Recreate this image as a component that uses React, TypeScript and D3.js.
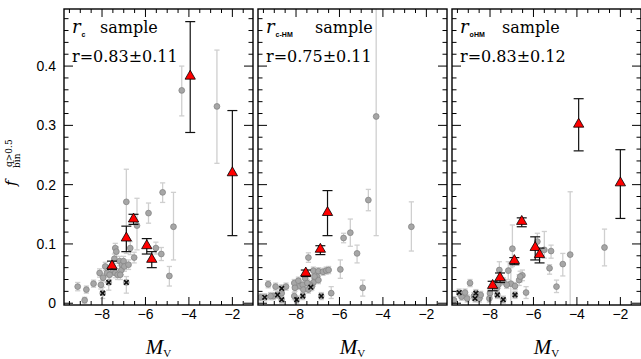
import * as React from 'react'
import * as d3 from 'd3'

// [Mv, f, barLow, barHigh]
type Pt = [number, number, number, number]

const panelNames = ['c', 'c-HM', 'oHM']
const panelCorr = ['r=0.83±0.11', 'r=0.75±0.11', 'r=0.83±0.12']

const xMajor = [-8, -6, -4, -2]
const yMajor = [0, 0.1, 0.2, 0.3, 0.4]
const yLabels = ['0', '0.1', '0.2', '0.3', '0.4']

// r_c sample
const redRc: Pt[] = [
  [-7.54, 0.063, 0.057, 0.071],
  [-6.88, 0.110, 0.087, 0.130],
  [-6.55, 0.142, 0.133, 0.150],
  [-5.94, 0.097, 0.083, 0.109],
  [-5.71, 0.074, 0.060, 0.087],
  [-3.94, 0.383, 0.288, 0.475],
  [-2.00, 0.220, 0.114, 0.325],
]
const grayRc: Pt[] = [
  [-9.12, 0.028, 0.021, 0.035],
  [-8.72, 0.023, 0.017, 0.029],
  [-8.80, 0.005, 0.000, 0.010],
  [-8.39, 0.033, 0.027, 0.039],
  [-8.05, 0.031, 0.024, 0.038],
  [-8.11, 0.051, 0.044, 0.058],
  [-7.95, 0.043, 0.036, 0.050],
  [-7.85, 0.062, 0.055, 0.069],
  [-7.77, 0.051, 0.044, 0.058],
  [-7.65, 0.048, 0.040, 0.056],
  [-7.49, 0.056, 0.048, 0.064],
  [-7.43, 0.075, 0.067, 0.083],
  [-7.39, 0.093, 0.085, 0.101],
  [-7.34, 0.087, 0.079, 0.095],
  [-7.39, 0.051, 0.043, 0.059],
  [-7.28, 0.048, 0.040, 0.056],
  [-7.19, 0.071, 0.063, 0.079],
  [-7.11, 0.056, 0.048, 0.064],
  [-7.08, 0.065, 0.057, 0.073],
  [-7.01, 0.071, 0.063, 0.079],
  [-6.97, 0.062, 0.054, 0.070],
  [-7.16, 0.048, 0.040, 0.056],
  [-6.78, 0.065, 0.057, 0.073],
  [-6.70, 0.093, 0.082, 0.104],
  [-6.52, 0.077, 0.068, 0.086],
  [-6.88, 0.171, 0.084, 0.226],
  [-6.39, 0.131, 0.090, 0.177],
  [-5.86, 0.152, 0.135, 0.169],
  [-5.52, 0.093, 0.083, 0.103],
  [-5.27, 0.083, 0.072, 0.094],
  [-5.21, 0.187, 0.170, 0.203],
  [-4.71, 0.129, 0.073, 0.187],
  [-4.90, 0.046, 0.029, 0.062],
  [-4.33, 0.359, 0.316, 0.400],
  [-2.71, 0.332, 0.236, 0.427],
]
const crossRc: Pt[] = [
  [-7.69, 0.035, 0.022, 0.045],
  [-6.88, 0.035, 0.017, 0.045],
  [-7.97, 0.017, 0.008, 0.027],
]

// r_c-HM sample
const redRcHM: Pt[] = [
  [-7.55, 0.051, 0.045, 0.056],
  [-6.88, 0.091, 0.082, 0.097],
  [-6.55, 0.153, 0.114, 0.190],
]
const grayRcHM: Pt[] = [
  [-4.67, 0.174, 0.156, 0.192],
  [-4.31, 0.315, 0.114, 0.600],
  [-2.69, 0.129, 0.088, 0.171],
  [-5.50, 0.119, 0.096, 0.142],
  [-5.81, 0.110, 0.102, 0.118],
  [-5.19, 0.084, 0.068, 0.098],
  [-5.96, 0.057, 0.042, 0.073],
  [-4.93, 0.026, 0.012, 0.039],
  [-6.38, 0.017, 0.008, 0.028],
  [-7.43, 0.077, 0.069, 0.085],
  [-7.20, 0.055, 0.049, 0.061],
  [-6.97, 0.054, 0.048, 0.060],
  [-6.76, 0.053, 0.047, 0.059],
  [-6.61, 0.055, 0.049, 0.061],
  [-6.50, 0.056, 0.050, 0.062],
  [-7.12, 0.042, 0.036, 0.048],
  [-7.20, 0.035, 0.029, 0.041],
  [-7.04, 0.045, 0.039, 0.051],
  [-6.97, 0.039, 0.033, 0.045],
  [-7.15, 0.045, 0.039, 0.051],
  [-7.58, 0.042, 0.036, 0.048],
  [-7.35, 0.031, 0.025, 0.037],
  [-8.08, 0.034, 0.028, 0.040],
  [-8.05, 0.026, 0.020, 0.032],
  [-8.08, 0.012, 0.006, 0.018],
  [-7.89, 0.038, 0.032, 0.044],
  [-7.81, 0.029, 0.023, 0.035],
  [-7.69, 0.031, 0.025, 0.037],
  [-7.66, 0.023, 0.017, 0.029],
  [-7.48, 0.034, 0.028, 0.040],
  [-7.43, 0.023, 0.017, 0.029],
  [-7.27, 0.028, 0.022, 0.034],
  [-9.28, 0.032, 0.026, 0.038],
  [-8.94, 0.028, 0.022, 0.034],
  [-9.05, 0.012, 0.006, 0.018],
  [-9.63, 0.010, 0.004, 0.016],
  [-9.17, 0.012, 0.006, 0.018],
  [-8.66, 0.017, 0.011, 0.023],
  [-8.46, 0.028, 0.022, 0.034],
]
const crossRcHM: Pt[] = [
  [-9.44, 0.010, 0.004, 0.016],
  [-8.66, 0.025, 0.019, 0.031],
  [-8.85, 0.014, 0.008, 0.020],
  [-8.66, 0.006, 0.000, 0.012],
  [-7.97, 0.006, 0.000, 0.012],
  [-7.69, 0.012, 0.006, 0.018],
  [-7.32, 0.027, 0.021, 0.033],
  [-6.84, 0.012, 0.006, 0.018],
]

// r_oHM sample
const redRoHM: Pt[] = [
  [-7.88, 0.030, 0.021, 0.037],
  [-7.54, 0.043, 0.035, 0.051],
  [-6.88, 0.072, 0.065, 0.077],
  [-6.54, 0.138, 0.129, 0.144],
  [-5.92, 0.094, 0.073, 0.112],
  [-5.72, 0.082, 0.068, 0.093],
  [-3.92, 0.302, 0.257, 0.345],
  [-2.00, 0.203, 0.143, 0.259],
]
const grayRoHM: Pt[] = [
  [-2.73, 0.094, 0.063, 0.125],
  [-4.31, 0.082, -0.010, 0.188],
  [-4.65, 0.066, 0.046, 0.084],
  [-5.19, 0.088, 0.076, 0.098],
  [-5.26, 0.059, 0.049, 0.065],
  [-4.94, 0.028, 0.018, 0.039],
  [-5.82, 0.104, 0.090, 0.118],
  [-5.50, 0.090, 0.076, 0.121],
  [-6.97, 0.092, 0.062, 0.132],
  [-7.16, 0.055, 0.040, 0.070],
  [-6.66, 0.039, 0.030, 0.048],
  [-6.51, 0.047, 0.038, 0.056],
  [-6.61, 0.045, 0.036, 0.054],
  [-6.34, 0.018, 0.008, 0.028],
  [-7.04, 0.033, -0.010, 0.060],
  [-8.92, 0.034, 0.028, 0.040],
  [-9.66, 0.005, 0.000, 0.011],
  [-9.31, 0.011, 0.005, 0.017],
  [-9.15, 0.018, 0.012, 0.024],
  [-9.05, 0.008, 0.002, 0.014],
  [-8.74, 0.012, 0.006, 0.018],
  [-8.49, 0.008, 0.002, 0.014],
  [-8.43, 0.014, 0.008, 0.020],
  [-8.00, 0.017, 0.011, 0.023],
  [-8.03, 0.008, 0.002, 0.014],
  [-7.69, 0.025, 0.019, 0.031],
  [-7.62, 0.031, 0.025, 0.037],
  [-7.57, 0.056, 0.030, 0.070],
  [-7.39, 0.037, 0.031, 0.043],
  [-7.23, 0.031, 0.025, 0.037],
  [-6.85, 0.029, 0.023, 0.035],
]
const crossRoHM: Pt[] = [
  [-9.42, 0.018, 0.012, 0.024],
  [-8.65, 0.017, 0.011, 0.023],
  [-8.69, 0.008, 0.002, 0.014],
  [-7.66, 0.014, 0.008, 0.020],
  [-7.39, 0.006, 0.000, 0.012],
  [-6.85, 0.014, 0.008, 0.020],
]

const panels = [
  { red: redRc, gray: grayRc, cross: crossRc, sampleDx: 36 },
  { red: redRcHM, gray: grayRcHM, cross: crossRcHM, sampleDx: 57 },
  { red: redRoHM, gray: grayRoHM, cross: crossRoHM, sampleDx: 50 },
]

const W = 641
const H = 359
const panelLeft = [64, 258, 452]
const panelW = 189
const top = 9
const bottom = 305

const y = d3.scaleLinear().domain([-0.003, 0.4963]).range([bottom, top])
const triangle = d3.symbol().type(d3.symbolTriangle).size(46)()

const tickFont = '"Liberation Sans", Arial, sans-serif'
const serif = '"DejaVu Serif", serif'

function Panel({ idx }: { idx: number }) {
  const p = panels[idx]
  const left = panelLeft[idx]
  const x = d3.scaleLinear().domain([-9.75, -1.05]).range([left, left + panelW])
  const xMinor = d3.range(-9.5, -1.0, 0.5).filter(v => !xMajor.includes(v))
  const yMinor = d3.range(0.02, 0.49, 0.02).filter(v => Math.abs(v * 10 - Math.round(v * 10)) > 1e-6)
  const clipId = `clip${idx}`

  const bar = (d: Pt, color: string, cap: number, sw: number, key: string) => (
    <g key={key} stroke={color} strokeWidth={sw}>
      <line x1={x(d[0])} x2={x(d[0])} y1={y(d[2])} y2={y(d[3])} />
      <line x1={x(d[0]) - cap} x2={x(d[0]) + cap} y1={y(d[2])} y2={y(d[2])} />
      <line x1={x(d[0]) - cap} x2={x(d[0]) + cap} y1={y(d[3])} y2={y(d[3])} />
    </g>
  )

  return (
    <g>
      <defs>
        <clipPath id={clipId}>
          <rect x={left} y={top} width={panelW} height={bottom - top} />
        </clipPath>
      </defs>
      <g clipPath={`url(#${clipId})`}>
        {p.gray.map((d, i) => bar(d, '#cfcfcf', 2.6, 1.3, 'gb' + i))}
        {p.cross.map((d, i) => bar(d, '#cfcfcf', 2.6, 1.3, 'cb' + i))}
        {p.gray.map((d, i) => (
          <circle key={'g' + i} cx={x(d[0])} cy={y(d[1])} r={2.9} fill="#a6a6a6" stroke="#858585" strokeWidth={0.8} />
        ))}
        {p.cross.map((d, i) => (
          <g key={'c' + i} transform={`translate(${x(d[0])},${y(d[1])})`}>
            <circle r={2.9} fill="#b5b5b5" stroke="#8a8a8a" strokeWidth={0.6} />
            <path d="M-2.3,-2.3L2.3,2.3M-2.3,2.3L2.3,-2.3" stroke="#111" strokeWidth={1.6} />
          </g>
        ))}
        {p.red.map((d, i) => bar(d, '#111', 5, 1.2, 'rb' + i))}
        {p.red.map((d, i) => (
          <path key={'r' + i} d={triangle as string} transform={`translate(${x(d[0])},${y(d[1])})`}
            fill="#ff0000" stroke="#000" strokeWidth={0.8} />
        ))}
      </g>

      {/* frame */}
      <rect x={left} y={top} width={panelW} height={bottom - top} fill="none" stroke="#000" strokeWidth={1.4} />

      {/* ticks */}
      <g stroke="#000" strokeWidth={1}>
        {xMajor.map(v => (
          <g key={'xM' + v}>
            <line x1={x(v)} x2={x(v)} y1={bottom} y2={bottom - 8} />
            <line x1={x(v)} x2={x(v)} y1={top} y2={top + 8} />
          </g>
        ))}
        {xMinor.map(v => (
          <g key={'xm' + v}>
            <line x1={x(v)} x2={x(v)} y1={bottom} y2={bottom - 4} />
            <line x1={x(v)} x2={x(v)} y1={top} y2={top + 4} />
          </g>
        ))}
        {yMajor.map(v => (
          <g key={'yM' + v}>
            <line x1={left} x2={left + 9} y1={y(v)} y2={y(v)} />
            <line x1={left + panelW} x2={left + panelW - 9} y1={y(v)} y2={y(v)} />
          </g>
        ))}
        {yMinor.map(v => (
          <g key={'ym' + v}>
            <line x1={left} x2={left + 4.5} y1={y(v)} y2={y(v)} />
            <line x1={left + panelW} x2={left + panelW - 4.5} y1={y(v)} y2={y(v)} />
          </g>
        ))}
      </g>

      {/* tick labels */}
      <g fontFamily={tickFont} fontSize={14} fill="#000">
        {xMajor.map(v => (
          <text key={'xl' + v} x={x(v)} y={319} textAnchor="middle">{'\u2212' + Math.abs(v)}</text>
        ))}
        {idx === 0 && yMajor.map((v, i) => (
          <text key={'yl' + v} x={left - 8} y={y(v) + 5} textAnchor="end">{yLabels[i]}</text>
        ))}
      </g>

      {/* x axis title */}
      <text x={left + panelW / 2} y={354} textAnchor="middle" fill="#000">
        <tspan fontFamily='"Liberation Serif", serif' fontStyle="italic" fontSize={21}>M</tspan>
        <tspan fontFamily='"Liberation Serif", serif' fontSize={11} dy={3}>V</tspan>
      </text>

      {/* annotation */}
      <text x={left + 8} y={33} fill="#000">
        <tspan fontFamily='"DejaVu Serif", serif' fontStyle="italic" fontSize={18}>r</tspan>
        <tspan fontFamily='"Liberation Sans", Arial, sans-serif' fontWeight="bold" fontSize={7} dy={4} dx={1}>{panelNames[idx]}</tspan>
      </text>
      <text x={left + p.sampleDx} y={33} fontFamily={serif} fontSize={16} fill="#000">sample</text>
      <text x={left + 8} y={62} fontFamily={serif} fontSize={16} fill="#000">{panelCorr[idx]}</text>
    </g>
  )
}

export default function App() {
  return (
    <svg width={W} height={H} style={{ position: 'absolute', left: 0, top: 0, background: '#fff' }}>
      <rect width={W} height={H} fill="#fff" />
      {[0, 1, 2].map(i => <Panel key={i} idx={i} />)}
      {/* y axis title */}
      <g transform="translate(16,186) rotate(-90)" fill="#000">
        <text x={0} y={0} fontFamily='"DejaVu Serif", serif' fontStyle="italic" fontSize={15}>f</text>
        <text x={19} y={-4} fontFamily='"DejaVu Serif", serif' fontSize={9}>q&gt;0.5</text>
        <text x={18} y={4} fontFamily='"DejaVu Serif", serif' fontSize={9}>bin</text>
      </g>
    </svg>
  )
}
